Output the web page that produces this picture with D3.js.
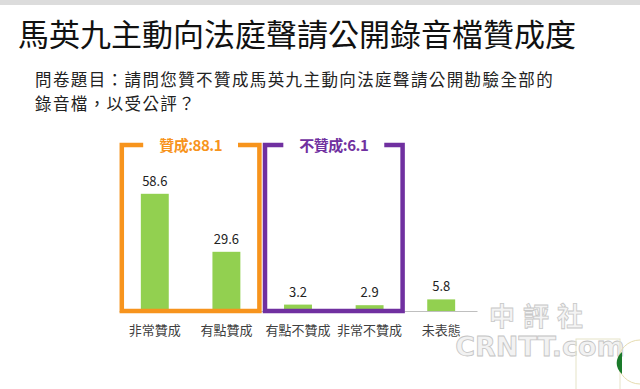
<!DOCTYPE html>
<html><head><meta charset="utf-8">
<script src="https://cdn.jsdelivr.net/npm/d3@7"></script>
<style>body{margin:0;background:#fff;}svg{display:block;}</style>
</head><body>
<svg id="c" width="640" height="389"></svg>
<script>
const title = "馬英九主動向法庭聲請公開錄音檔贊成度";
const subtitleLines = ["問卷題目：請問您贊不贊成馬英九主動向法庭聲請公開勘驗全部的", "錄音檔，以受公評？"];
const categories = ["非常贊成", "有點贊成", "有點不贊成", "非常不贊成", "未表態"];
const values = [58.6, 29.6, 3.2, 2.9, 5.8];
const groupLabels = ["贊成:88.1", "不贊成:6.1"];
const groupStart = [0, 2];
const groupEnd = [1, 3];
const groupColors = ["#F7941D", "#7030A0"];

const svg = d3.select("#c");
const font = "'Noto Sans CJK TC','Noto Sans',sans-serif";

svg.append("rect").attr("x",0).attr("y",0).attr("width",640).attr("height",5).attr("fill","#dcdcdc");

svg.append("text").attr("x",18).attr("y",46).attr("font-family",font).attr("font-size",31)
  .attr("fill","#111").text(title);

svg.selectAll(".sub").data(subtitleLines).enter().append("text")
  .attr("x",35).attr("y",(d,i)=>86+i*24).attr("font-family",font).attr("font-size",16.5)
  .attr("letter-spacing",1.4).attr("fill","#222").text(d=>d);

const x = d3.scaleBand().domain(categories).range([119,477]).paddingInner(0.61).paddingOuter(0.305);
const y = d3.scaleLinear().domain([0,60]).range([311,191]);

// axis baseline
const axis = svg.append("g").attr("transform","translate(0,311)")
  .call(d3.axisBottom(x).tickSize(0).tickPadding(15));
axis.select(".domain").attr("stroke","#bfbfbf").attr("stroke-width",1);
axis.selectAll("text").attr("font-family",font).attr("font-size",13).attr("fill","#404040");

svg.selectAll(".bar").data(values).enter().append("rect")
  .attr("x",(d,i)=>x(categories[i])).attr("width",x.bandwidth())
  .attr("y",d=>y(d)).attr("height",d=>y(0)-y(d)).attr("fill","#92D050");

svg.selectAll(".val").data(values).enter().append("text")
  .attr("x",(d,i)=>x(categories[i])+x.bandwidth()/2).attr("y",d=>y(d)-8)
  .attr("text-anchor","middle").attr("font-family",font).attr("font-size",13).attr("fill","#222")
  .text(d=>d.toFixed(1));

// brackets
const topY = 145, botY = 311;
groupLabels.forEach((lab,g)=>{
  const l = x(categories[groupStart[g]]) + x.bandwidth()/2 - 33;
  const r = x(categories[groupEnd[g]]) + x.bandwidth()/2 + 33;
  const cx = (l+r)/2;
  const t = svg.append("text").attr("x",cx).attr("y",topY+6).attr("text-anchor","middle")
    .attr("font-family",font).attr("font-size",15).attr("font-weight","bold")
    .attr("fill",groupColors[g]).attr("letter-spacing",-0.5).text(lab);
  const w = t.node().getComputedTextLength();
  const gap = w/2 + 16;
  const p = d3.path();
  p.moveTo(cx-gap, topY); p.lineTo(l, topY); p.lineTo(l, botY); p.lineTo(r, botY); p.lineTo(r, topY); p.lineTo(cx+gap, topY);
  svg.append("path").attr("d",p.toString()).attr("fill","none").attr("stroke",groupColors[g])
    .attr("stroke-width",4.5).attr("stroke-linejoin","miter");
});

// watermark
svg.append("text").attr("x",540).attr("y",326).attr("text-anchor","middle").attr("font-family",font)
  .attr("font-size",26).attr("font-weight","bold").attr("letter-spacing",8).attr("fill","#f4f4f4")
  .attr("stroke","#c8c8c8").attr("stroke-width",0.8).text("中評社");
svg.append("text").attr("x",540).attr("y",356).attr("text-anchor","middle").attr("font-family","'DejaVu Sans',sans-serif")
  .attr("font-size",27).attr("font-weight","bold").attr("fill","#f2f2f2")
  .attr("stroke","#c4c4c4").attr("stroke-width",0.8).text("CRNTT.com");
svg.append("rect").attr("x",576).attr("y",339).attr("width",44).attr("height",52).attr("fill","none").attr("stroke","#e6e3c8");
svg.append("circle").attr("cx",640).attr("cy",362).attr("r",22).attr("fill","none").attr("stroke","#e6dcb0");
svg.append("path").attr("d","M622,352 A14,14 0 0,0 622,374 Z").attr("fill","#1a7a2a");
</script>
</body></html>
